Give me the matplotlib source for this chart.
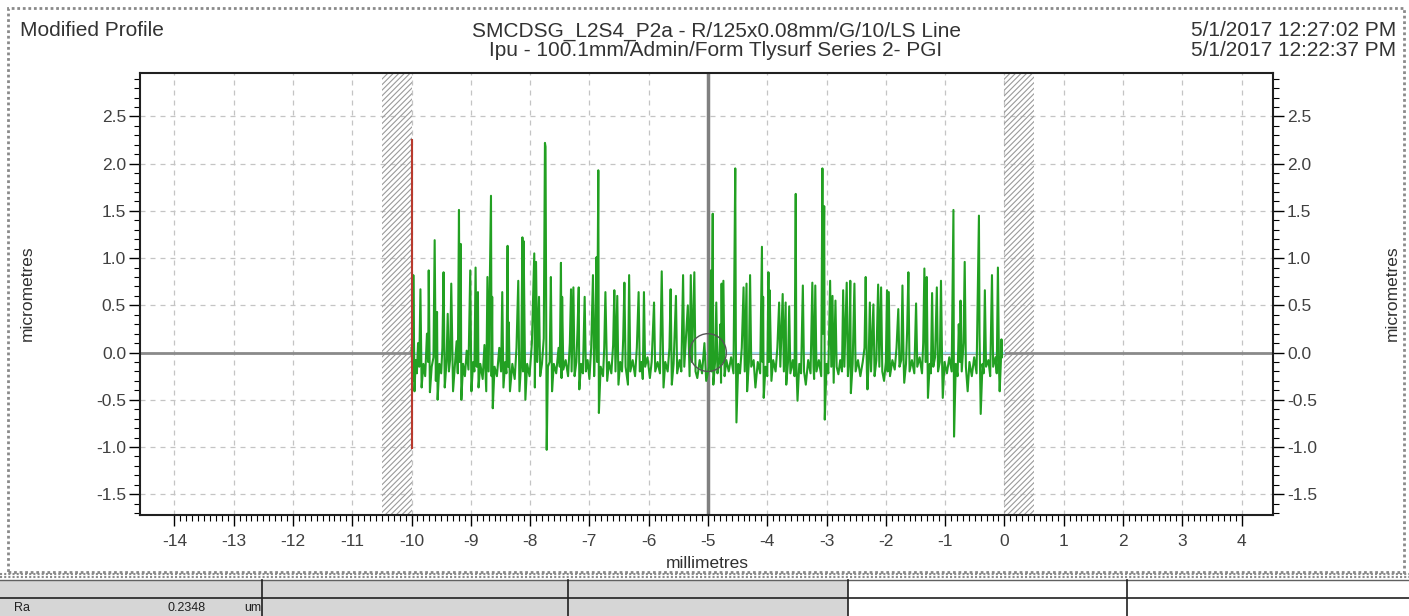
import numpy as np
import matplotlib
matplotlib.use('Agg')
import matplotlib.pyplot as plt
from matplotlib.patches import Rectangle, Ellipse
from matplotlib.lines import Line2D
from matplotlib.ticker import FixedLocator, MultipleLocator

plt.rcParams['font.family'] = ['Liberation Sans', 'DejaVu Sans']
plt.rcParams['hatch.linewidth'] = 0.8

# header / labels
header_left = 'Modified Profile'
title_lines = ['SMCDSG_L2S4_P2a - R/125x0.08mm/G/10/LS Line',
               'Ipu - 100.1mm/Admin/Form Tlysurf Series 2- PGI']
date_lines = ['5/1/2017 12:27:02 PM', '5/1/2017 12:22:37 PM']
x_label = 'millimetres'
y_label = 'micrometres'

x_ticks = list(range(-14, 5))
y_ticks = [-1.5, -1.0, -0.5, 0.0, 0.5, 1.0, 1.5, 2.0, 2.5]

# evaluation length limits and cut-off bands (mm)
eval_start = -10.0
eval_end = 0.0
band_left = (-10.5, -10.0)
band_right = (0.0, 0.5)
marker_x = -5.0

# red start marker (x, ymin, ymax)
red_marker = (-10.0, -1.01, 2.25)

# table
param_name = 'Ra'
param_value = '0.2348'
param_unit = 'um'

# profile (mm, micrometres)
profile = [
    (-10.00, 0.05), (-9.98, -0.30), (-9.97, 0.82), (-9.95, -0.41), (-9.93, -0.08), (-9.91, -0.22), (-9.89, 0.10), (-9.87, -0.15),
    (-9.85, 0.67), (-9.83, -0.37), (-9.80, -0.12), (-9.77, -0.25), (-9.74, 0.20), (-9.72, -0.10),
    (-9.71, 0.87), (-9.69, -0.42), (-9.66, -0.15), (-9.63, -0.05),
    (-9.61, 1.19), (-9.59, -0.30), (-9.57, 0.43), (-9.56, -0.50), (-9.53, -0.12), (-9.50, -0.22), (-9.48, 0.05),
    (-9.46, 0.85), (-9.44, -0.37), (-9.41, -0.10), (-9.39, 0.41), (-9.37, -0.20), (-9.35, -0.08),
    (-9.33, 0.73), (-9.30, -0.41), (-9.27, -0.15), (-9.24, 0.12), (-9.22, -0.22),
    (-9.20, 1.51), (-9.19, -0.10), (-9.17, 1.15), (-9.16, -0.50), (-9.13, -0.12), (-9.10, -0.25), (-9.07, 0.02), (-9.04, -0.18),
    (-9.01, 0.87), (-8.99, -0.41), (-8.96, -0.10), (-8.94, -0.20),
    (-8.92, 0.90), (-8.90, -0.15), (-8.88, 0.64), (-8.87, -0.37), (-8.84, -0.12), (-8.80, -0.28), (-8.77, 0.08), (-8.74, -0.41),
    (-8.72, 0.80), (-8.70, -0.20), (-8.66, 1.66), (-8.65, -0.25), (-8.64, 0.59), (-8.63, -0.59), (-8.60, -0.15), (-8.56, -0.25),
    (-8.52, 0.05), (-8.49, -0.20),
    (-8.47, 0.64), (-8.45, -0.37), (-8.42, -0.10), (-8.40, -0.22),
    (-8.38, 1.13), (-8.37, -0.15), (-8.36, 0.32), (-8.34, -0.41), (-8.30, -0.12), (-8.26, -0.28), (-8.23, 0.05),
    (-8.20, 0.76), (-8.18, -0.41), (-8.15, -0.10), (-8.13, 1.22), (-8.12, -0.20), (-8.11, 1.18), (-8.08, -0.50), (-8.05, -0.12),
    (-8.01, -0.25), (-7.97, 0.10),
    (-7.93, 1.05), (-7.92, -0.37), (-7.90, 0.96), (-7.88, -0.10), (-7.85, 0.59), (-7.83, -0.25), (-7.80, -0.12), (-7.77, 0.15),
    (-7.75, 2.22), (-7.74, 2.18), (-7.72, -1.03), (-7.70, -0.15),
    (-7.67, -0.10), (-7.65, 0.80), (-7.63, -0.41), (-7.60, -0.12), (-7.56, -0.22), (-7.52, 0.05), (-7.50, -0.15),
    (-7.48, 0.95), (-7.47, -0.27), (-7.46, 0.59), (-7.44, -0.18), (-7.40, -0.08), (-7.36, -0.25), (-7.33, 0.10),
    (-7.31, 0.67), (-7.30, -0.20), (-7.27, 0.69), (-7.25, -0.25), (-7.22, -0.10), (-7.20, 0.25),
    (-7.18, 0.69), (-7.17, -0.39), (-7.14, -0.12), (-7.11, -0.22),
    (-7.08, 0.59), (-7.06, -0.20), (-7.03, -0.08), (-7.00, -0.28), (-6.97, 0.05),
    (-6.94, 0.82), (-6.92, -0.25), (-6.90, 0.20), (-6.88, 1.01), (-6.87, -0.10), (-6.85, 1.93), (-6.84, -0.64), (-6.81, -0.15),
    (-6.77, -0.25), (-6.75, 0.05),
    (-6.73, 0.64), (-6.70, -0.30), (-6.67, -0.10), (-6.63, -0.22), (-6.60, 0.08),
    (-6.58, 0.66), (-6.56, -0.20), (-6.53, 0.60), (-6.51, -0.34), (-6.48, -0.10), (-6.45, -0.20), (-6.43, 0.15),
    (-6.41, 0.74), (-6.39, -0.15), (-6.35, -0.34), (-6.33, 0.82), (-6.31, -0.20), (-6.27, -0.08), (-6.23, -0.25), (-6.20, 0.05),
    (-6.17, 0.64), (-6.15, -0.20), (-6.12, -0.10), (-6.10, -0.28), (-6.08, 0.64), (-6.06, -0.15), (-6.02, -0.05), (-5.98, -0.27),
    (-5.95, -0.10),
    (-5.91, 0.53), (-5.89, -0.20), (-5.85, -0.10), (-5.81, -0.22),
    (-5.78, 0.86), (-5.75, -0.37), (-5.72, -0.10), (-5.68, -0.20), (-5.65, 0.05),
    (-5.63, 0.67), (-5.61, -0.34), (-5.58, -0.12), (-5.54, 0.60), (-5.52, -0.22), (-5.48, -0.08), (-5.45, -0.20),
    (-5.42, 0.82), (-5.40, -0.15), (-5.34, 0.50), (-5.31, -0.25), (-5.29, 0.82), (-5.27, -0.10), (-5.23, 0.85), (-5.21, -0.20),
    (-5.18, -0.27), (-5.14, -0.08), (-5.10, -0.22), (-5.06, 0.10), (-5.03, -0.30),
    (-4.98, -0.15), (-4.95, 0.87), (-4.94, -0.20), (-4.92, 1.47), (-4.91, -0.34), (-4.88, -0.10), (-4.86, 0.53), (-4.84, -0.22),
    (-4.81, -0.08), (-4.79, 0.30), (-4.78, -0.32),
    (-4.77, 0.73), (-4.76, -0.10), (-4.74, 0.76), (-4.72, -0.25), (-4.69, -0.08), (-4.65, -0.20), (-4.61, -0.05), (-4.57, -0.22),
    (-4.54, 1.95), (-4.53, 0.15), (-4.52, -0.74), (-4.49, -0.12), (-4.46, -0.22), (-4.43, 0.05),
    (-4.40, 0.69), (-4.38, -0.20), (-4.35, 0.73), (-4.34, -0.41), (-4.31, -0.10), (-4.29, 0.82), (-4.27, -0.15), (-4.23, -0.08),
    (-4.20, -0.37), (-4.16, -0.10), (-4.12, -0.22),
    (-4.09, 1.12), (-4.08, -0.10), (-4.07, 0.59), (-4.06, -0.48), (-4.03, -0.15), (-4.00, -0.25),
    (-3.98, 0.85), (-3.97, -0.10), (-3.96, 0.66), (-3.93, -0.30), (-3.90, -0.08), (-3.86, -0.20), (-3.83, 0.05),
    (-3.80, 0.53), (-3.78, -0.15), (-3.74, 0.62), (-3.72, -0.20), (-3.69, 0.53), (-3.68, -0.34), (-3.65, -0.10), (-3.63, 0.49),
    (-3.61, -0.22), (-3.57, -0.08), (-3.54, -0.25),
    (-3.52, 1.68), (-3.51, -0.10), (-3.49, -0.51), (-3.46, -0.12), (-3.43, -0.22),
    (-3.40, 0.71), (-3.38, -0.20), (-3.35, -0.34), (-3.31, -0.08), (-3.27, -0.22),
    (-3.24, 0.74), (-3.22, -0.15), (-3.21, -0.28), (-3.19, 0.71), (-3.17, -0.20), (-3.13, -0.08), (-3.09, -0.25),
    (-3.07, 1.95), (-3.06, 0.20), (-3.04, 1.55), (-3.03, -0.71), (-3.00, -0.12), (-2.97, -0.22),
    (-2.94, 0.76), (-2.92, -0.15), (-2.90, 0.60), (-2.88, -0.32), (-2.85, 0.55), (-2.83, -0.15), (-2.80, -0.23), (-2.77, -0.08),
    (-2.74, -0.20),
    (-2.72, 0.66), (-2.70, -0.15), (-2.66, 0.74), (-2.64, -0.25), (-2.62, -0.08),
    (-2.60, 0.76), (-2.59, -0.43), (-2.56, -0.12), (-2.53, 0.73), (-2.51, -0.20), (-2.47, -0.08), (-2.43, -0.25), (-2.39, -0.10),
    (-2.36, 0.05),
    (-2.34, 0.80), (-2.32, -0.20), (-2.31, -0.39), (-2.29, -0.10), (-2.27, 0.53), (-2.25, -0.20), (-2.21, 0.51), (-2.19, -0.25),
    (-2.16, -0.08),
    (-2.13, 0.72), (-2.11, -0.15), (-2.08, 0.69), (-2.06, -0.20), (-2.03, -0.30), (-2.00, -0.10),
    (-1.98, 0.66), (-1.97, -0.20), (-1.95, 0.64), (-1.93, -0.25), (-1.89, -0.08), (-1.85, -0.18), (-1.82, 0.05),
    (-1.79, 0.46), (-1.77, -0.15), (-1.74, -0.08), (-1.72, 0.71), (-1.70, -0.10), (-1.69, -0.32), (-1.66, -0.12), (-1.64, 0.25),
    (-1.62, 0.85), (-1.60, -0.20), (-1.56, -0.08), (-1.52, -0.22), (-1.49, 0.52), (-1.47, -0.15), (-1.43, -0.05), (-1.39, -0.22),
    (-1.37, 0.10),
    (-1.35, 0.89), (-1.33, -0.10), (-1.31, 0.80), (-1.29, -0.48), (-1.26, -0.12), (-1.24, -0.22),
    (-1.22, 0.63), (-1.20, -0.15), (-1.17, -0.05), (-1.14, 0.69), (-1.12, -0.20), (-1.09, -0.10),
    (-1.07, 0.76), (-1.05, -0.15), (-1.04, -0.48), (-1.01, -0.10), (-0.97, -0.22), (-0.93, -0.05), (-0.89, -0.20),
    (-0.86, 1.51), (-0.85, -0.89), (-0.82, -0.12), (-0.79, -0.25), (-0.77, 0.30), (-0.75, -0.10),
    (-0.74, 0.55), (-0.72, -0.20), (-0.69, 0.10), (-0.67, 0.96), (-0.65, -0.15), (-0.62, -0.41), (-0.59, -0.10), (-0.55, -0.25),
    (-0.51, -0.05), (-0.47, -0.22),
    (-0.43, 1.45), (-0.42, 0.20), (-0.40, -0.65), (-0.37, -0.12), (-0.35, -0.22),
    (-0.33, 0.66), (-0.31, -0.15), (-0.27, -0.08), (-0.24, -0.25),
    (-0.21, 0.82), (-0.19, -0.15), (-0.15, -0.05), (-0.13, -0.22),
    (-0.11, 0.90), (-0.09, -0.20), (-0.08, -0.41), (-0.06, -0.10), (-0.05, 0.14), (-0.04, -0.05),
]
profile_x = [p[0] for p in profile]
profile_y = [p[1] for p in profile]

W, H = 1409, 616
fig = plt.figure(figsize=(W / 100, H / 100), dpi=100)


def fx(px):
    return px / W


def fy(py):
    return 1 - py / H


ax = fig.add_axes([fx(140), fy(515), fx(1273) - fx(140), fy(73) - fy(515)])
ax.set_xlim(-14.58, 4.53)
ax.set_ylim(-1.72, 2.96)

# grid
for xt in x_ticks:
    ax.axvline(xt, color='#c4c4c4', lw=0.9, ls=(0, (4, 4)), zorder=0)
for yt in y_ticks:
    ax.axhline(yt, color='#c4c4c4', lw=0.9, ls=(0, (4, 4)), zorder=0)

# cut-off bands
for b in (band_left, band_right):
    ax.axvspan(b[0], b[1], facecolor='none', edgecolor='#9a9a9a', hatch='//////', lw=0, zorder=1)

ax.axhline(0, color='#8a8a8a', lw=2, zorder=1)
ax.plot([eval_start, eval_end], [0, 0], color='#a8dcf0', lw=1.5, zorder=2)
ax.axvline(marker_x, color='#808080', lw=2.5, zorder=2)

ax.plot(profile_x, profile_y, color='#22a022', lw=1.5, zorder=3)
ax.plot([red_marker[0], red_marker[0]], [red_marker[1], red_marker[2]], color='#b83a2e', lw=1.5, zorder=4)
ax.add_patch(Ellipse((marker_x, 0.0), 0.62, 0.40, fill=False, edgecolor='#555555', lw=1, zorder=5))

# ticks
ax.xaxis.set_major_locator(FixedLocator(x_ticks))
ax.xaxis.set_minor_locator(FixedLocator(np.arange(-14, 4.001, 0.1)))
ax.yaxis.set_major_locator(FixedLocator(y_ticks))
ax.yaxis.set_minor_locator(MultipleLocator(0.1))
ax.set_xticklabels([str(t) for t in x_ticks])
ax.set_yticklabels(['%.1f' % t for t in y_ticks])
ax.tick_params(axis='y', which='both', left=True, right=True, labelleft=True, labelright=True,
               direction='out', labelsize=12.5, labelcolor='#404040', pad=2)
ax.tick_params(axis='x', which='both', direction='out', labelsize=12.5, labelcolor='#404040', pad=6)
ax.tick_params(which='major', length=8, width=1)
ax.tick_params(which='minor', length=4, width=0.8)
for s in ax.spines.values():
    s.set_linewidth(1.5)
    s.set_color('#202020')

fig.text(fx(707), fy(563), x_label, ha='center', va='center', fontsize=12.5, color='#303030')
fig.text(fx(27), fy(293), y_label, ha='center', va='center', rotation=90, fontsize=12.5, color='#303030')
fig.text(fx(1392), fy(293), y_label, ha='center', va='center', rotation=90, fontsize=12.5, color='#303030')

# header
hsize = 15
fig.text(fx(20), fy(31), header_left, ha='left', va='center', fontsize=hsize, color='#333333')
fig.text(fx(716), fy(31), title_lines[0], ha='center', va='center', fontsize=hsize, color='#333333')
fig.text(fx(716), fy(51), title_lines[1], ha='center', va='center', fontsize=hsize, color='#333333')
fig.text(fx(1396), fy(31), date_lines[0], ha='right', va='center', fontsize=hsize, color='#333333')
fig.text(fx(1396), fy(51), date_lines[1], ha='right', va='center', fontsize=hsize, color='#333333')

# panel border and separator
fig.patches.append(Rectangle((fx(8), fy(572)), fx(1404) - fx(8), fy(8) - fy(572), transform=fig.transFigure,
                             fill=False, edgecolor='#8a8a8a', lw=2, ls=(0, (1, 1))))
for py in (574, 577):
    fig.lines.append(Line2D([0, 1], [fy(py), fy(py)], transform=fig.transFigure, color='#8a8a8a', lw=1.5, ls=(0, (1, 1))))

# table
fig.patches.append(Rectangle((0, 0), fx(848), fy(580), transform=fig.transFigure, facecolor='#d6d6d6', edgecolor='none'))
fig.lines.append(Line2D([0, 1], [fy(580), fy(580)], transform=fig.transFigure, color='#606060', lw=1))
fig.lines.append(Line2D([0, 1], [fy(598), fy(598)], transform=fig.transFigure, color='#202020', lw=1.2))
for px in (262, 568, 848, 1127):
    fig.lines.append(Line2D([fx(px), fx(px)], [0, fy(580)], transform=fig.transFigure, color='#202020', lw=1.2))
fig.text(fx(14), fy(608), param_name, ha='left', va='center', fontsize=9, color='#202020')
fig.text(fx(206), fy(608), param_value, ha='right', va='center', fontsize=9, color='#202020')
fig.text(fx(244), fy(608), param_unit, ha='left', va='center', fontsize=9, color='#202020')

fig.savefig('out.png', dpi=100)
